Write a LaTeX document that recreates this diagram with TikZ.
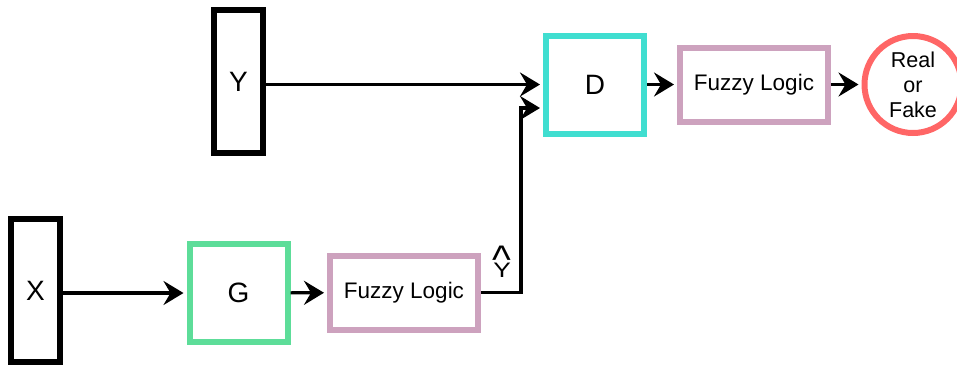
\documentclass[tikz,border=0pt]{standalone}
\usepackage{fontspec}
\setmainfont{Liberation Sans}
\usepackage{tikz}
\usetikzlibrary{arrows.meta,calc}

\definecolor{gcol}{RGB}{93,221,153}
\definecolor{dcol}{RGB}{64,222,208}
\definecolor{fzcol}{RGB}{205,162,190}
\definecolor{rcol}{RGB}{255,102,102}

\begin{document}
\begin{tikzpicture}[x=1pt,y=-1pt,
        bar/.style={draw,line width=6pt,minimum width=49pt,minimum height=143pt,inner sep=0pt,font=\fontsize{28}{34}\selectfont},
        sq/.style={draw,line width=6pt,minimum size=98pt,inner sep=0pt,font=\fontsize{28}{34}\selectfont},
        fz/.style={draw=fzcol,line width=6pt,minimum width=148pt,minimum height=74pt,inner sep=0pt,font=\fontsize{22.5}{27}\selectfont},
        arr/.style={-{Stealth[length=20pt,width=24pt,inset=7pt]},line width=3.2pt,shorten >=3pt}]
            \useasboundingbox (0,0) rectangle (957,368);

            % inputs
            \node[bar] (y) at (238.5,81.5) {Y};
            \node[bar] (x) at (35.5,290.5) {X};

            % generator branch
            \node[sq,draw=gcol] (g) at (238.5,293) {G};
            \node[fz] (fz1) at (404,292.5) {Fuzzy Logic};

            % discriminator branch
            \node[sq,draw=dcol] (d) at (595,84.5) {D};
            \node[fz] (fz2) at (754,84.5) {Fuzzy Logic};
            \node[circle,draw=rcol,line width=6pt,minimum size=97pt,inner sep=0pt,align=center,font=\fontsize{21.5}{25}\selectfont] (out) at (913,84.5) {Real\\or\\Fake};

            \node[font=\fontsize{21}{25}\selectfont,inner sep=0pt,anchor=base] (yhat) at (502,277)
                {\ooalign{\scalebox{1.25}[1]{Y}\cr\hidewidth\raisebox{3.8pt}{\scalebox{1.9}{\textasciicircum}}\hidewidth\cr}};

            \coordinate (bend) at (521,292.5);
            \coordinate (dlow) at ($(d.west)+(0,23.5)$);

            \draw[arr] (x.east |- g.west) -- (g.west);
            \draw[arr] (g) -- (fz1);
            \draw[arr,shorten >=0pt] (fz1.east) -- (bend) |- ([xshift=-3pt]dlow);
            \draw[arr] (y.east |- d.west) -- (d.west);
            \draw[arr] (d) -- (fz2);
            \draw[arr] (fz2) -- (out);

        \end{tikzpicture}
\end{document}
